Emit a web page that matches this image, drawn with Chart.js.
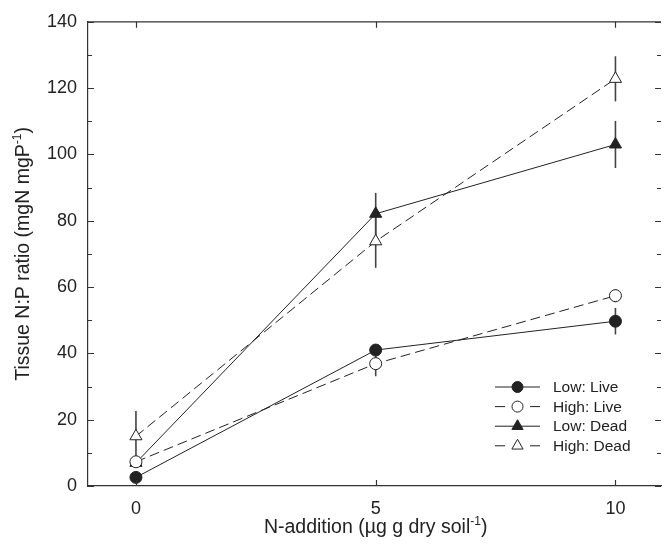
<!DOCTYPE html>
<html>
<head>
<meta charset="utf-8">
<script src="https://cdn.jsdelivr.net/npm/chart.js@4.4.1/dist/chart.umd.min.js"></script>
<style>
    html, body { margin: 0; padding: 0; background: #fff; }
    #wrap { width: 669px; height: 544px; }
</style>
</head>
<body>
<div id="wrap"><canvas id="np"></canvas></div>
<script>
// data
const nAddition = [0, 5, 10];
const lowLive = [2.6, 41.0, 49.7];
const lowLiveErr = [0.8, 1.5, 4.0];
const highLive = [7.3, 36.9, 57.4];
const highLiveErr = [1.0, 3.8, 2.0];
const lowDead = [7.0, 82.1, 103.0];
const lowDeadErr = [1.0, 6.3, 7.1];
const highDead = [15.0, 73.8, 122.8];
const highDeadErr = [7.6, 8.0, 6.8];
const yTicks = [0, 20, 40, 60, 80, 100, 120, 140];

const ink = '#222';
const FONT = 'Liberation Sans, Arial, sans-serif';

function pts(vals) {
    return nAddition.map((x, i) => ({ x: x, y: vals[i] }));
}

const series = [
    { label: 'Low: Live', vals: lowLive, err: lowLiveErr, shape: 'circle', fill: ink, dash: [] },
    { label: 'High: Live', vals: highLive, err: highLiveErr, shape: 'circle', fill: '#fff', dash: [10, 5] },
    { label: 'Low: Dead', vals: lowDead, err: lowDeadErr, shape: 'triangle', fill: ink, dash: [] },
    { label: 'High: Dead', vals: highDead, err: highDeadErr, shape: 'triangle', fill: '#fff', dash: [10, 5] }
];

// error bars, drawn before the lines/markers
const errorBars = {
    id: 'errorBars',
    beforeDatasetsDraw(chart) {
        const { ctx, scales: { x, y } } = chart;
        ctx.save();
        ctx.strokeStyle = '#444';
        ctx.lineWidth = 1.6;
        series.forEach(s => {
            s.vals.forEach((v, i) => {
                const px = x.getPixelForValue(nAddition[i]);
                ctx.beginPath();
                ctx.moveTo(px, y.getPixelForValue(v - s.err[i]));
                ctx.lineTo(px, y.getPixelForValue(v + s.err[i]));
                ctx.stroke();
            });
        });
        ctx.restore();
    }
};

// text centred on x, with superscript pieces
function drawSup(ctx, parts, x, y, size) {
    let total = 0;
    parts.forEach(p => {
        ctx.font = (p[1] ? size * 0.62 : size) + 'px ' + FONT;
        total += ctx.measureText(p[0]).width;
    });
    let cx = x - total / 2;
    parts.forEach(p => {
        ctx.font = (p[1] ? size * 0.62 : size) + 'px ' + FONT;
        ctx.fillText(p[0], cx, p[1] ? y - size * 0.42 : y);
        cx += ctx.measureText(p[0]).width;
    });
}

// inward frame ticks, titles, legend
const frame = {
    id: 'frame',
    afterDraw(chart) {
        const { ctx, chartArea: a, scales: { x, y } } = chart;
        ctx.save();
        ctx.strokeStyle = '#333';
        ctx.lineWidth = 1.2;
        ctx.beginPath();
        ctx.moveTo(a.left, a.top);
        ctx.lineTo(a.right, a.top);
        ctx.stroke();
        for (let v = 0; v <= 140; v += 10) {
            const py = Math.round(y.getPixelForValue(v)) + 0.5;
            const len = v % 20 === 0 ? 6 : 4;
            ctx.beginPath();
            ctx.moveTo(a.left, py);
            ctx.lineTo(a.left + len, py);
            ctx.moveTo(a.right, py);
            ctx.lineTo(a.right - len, py);
            ctx.stroke();
        }
        nAddition.forEach(v => {
            const px = Math.round(x.getPixelForValue(v)) + 0.5;
            ctx.beginPath();
            ctx.moveTo(px, a.bottom);
            ctx.lineTo(px, a.bottom - 6);
            ctx.moveTo(px, a.top);
            ctx.lineTo(px, a.top + 6);
            ctx.stroke();
        });

        ctx.fillStyle = ink;
        ctx.textBaseline = 'alphabetic';
        ctx.textAlign = 'left';
        drawSup(ctx, [['N-addition (\u00b5g g dry soil', false], ['-1', true], [')', false]],
            x.getPixelForValue(5), 533, 19.5);
        ctx.save();
        ctx.translate(29, (a.top + a.bottom) / 2);
        ctx.rotate(-Math.PI / 2);
        drawSup(ctx, [['Tissue N:P ratio (mgN mgP', false], ['-1', true], [')', false]], 0, 0, 19.5);
        ctx.restore();

        // legend
        const lx = 495, ly = 387, row = 19.6;
        series.forEach((s, i) => {
            const yy = ly + i * row;
            ctx.strokeStyle = ink;
            ctx.lineWidth = 1;
            ctx.beginPath();
            if (s.dash.length) {
                ctx.moveTo(lx, yy); ctx.lineTo(lx + 10, yy);
                ctx.moveTo(lx + 35, yy); ctx.lineTo(lx + 45, yy);
            } else {
                ctx.moveTo(lx, yy); ctx.lineTo(lx + 45, yy);
            }
            ctx.stroke();
            ctx.fillStyle = s.fill;
            ctx.beginPath();
            if (s.shape === 'circle') {
                ctx.arc(lx + 22.5, yy, 5.5, 0, Math.PI * 2);
            } else {
                const r = 6.5;
                ctx.moveTo(lx + 22.5, yy - r);
                ctx.lineTo(lx + 22.5 + r * 0.866, yy + r * 0.5);
                ctx.lineTo(lx + 22.5 - r * 0.866, yy + r * 0.5);
                ctx.closePath();
            }
            ctx.fill();
            ctx.stroke();
            ctx.fillStyle = ink;
            ctx.font = '15.5px ' + FONT;
            ctx.textBaseline = 'middle';
            ctx.fillText(s.label, 553, yy + 1);
        });
        ctx.restore();
    }
};

new Chart(document.getElementById('np'), {
    type: 'line',
    data: {
        datasets: series.map(s => ({
            label: s.label,
            data: pts(s.vals),
            borderColor: ink,
            borderWidth: 1,
            borderDash: s.dash,
            pointStyle: s.shape,
            pointRadius: s.shape === 'circle' ? 6 : 7,
            pointBackgroundColor: s.fill,
            pointBorderColor: ink,
            pointBorderWidth: 1,
            tension: 0
        }))
    },
    options: {
        responsive: true,
        maintainAspectRatio: false,
        animation: false,
        layout: { padding: { top: 16, right: 0, left: 0, bottom: 0 } },
        plugins: {
            legend: { display: false },
            tooltip: { enabled: false }
        },
        scales: {
            x: {
                type: 'linear',
                min: -1,
                max: 10.95,
                afterFit: (scale) => { scale.height = 58; },
                afterBuildTicks: (scale) => { scale.ticks = nAddition.map(v => ({ value: v })); },
                grid: { display: false, drawTicks: false },
                border: { display: true, color: '#333', width: 1.2 },
                ticks: {
                    color: ink,
                    padding: 12,
                    font: { family: FONT, size: 18 }
                }
            },
            y: {
                min: 0,
                max: 140,
                afterFit: (scale) => { scale.width = 88; },
                afterBuildTicks: (scale) => { scale.ticks = yTicks.map(v => ({ value: v })); },
                grid: { display: false, drawTicks: false },
                border: { display: true, color: '#333', width: 1.2 },
                ticks: {
                    color: ink,
                    padding: 11,
                    font: { family: FONT, size: 18 }
                }
            }
        }
    },
    plugins: [errorBars, frame]
});
</script>
</body>
</html>
